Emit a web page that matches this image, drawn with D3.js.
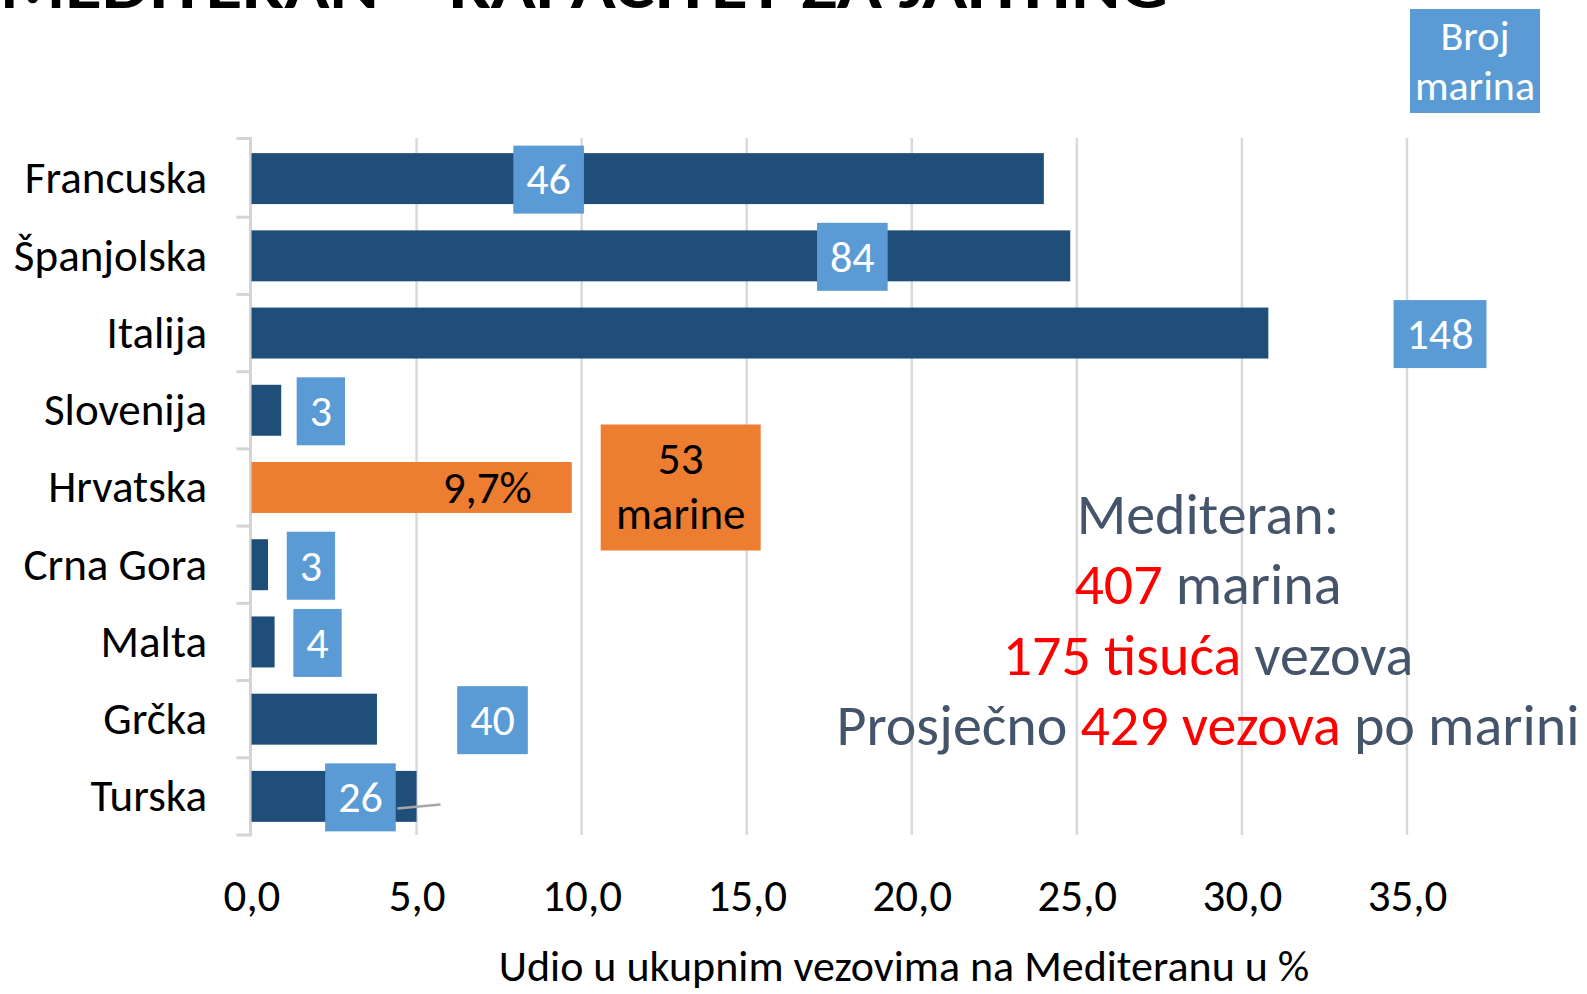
<!DOCTYPE html>
<html>
<head>
<meta charset="utf-8">
<script src="https://cdn.jsdelivr.net/npm/d3@7"></script>
<style>
  body { margin: 0; background: #fff; }
  svg text { font-family: Carlito, Lato, "Open Sans", sans-serif; }
</style>
</head>
<body>
<div id="chart"></div>
<script>
// data
const countries = ['Francuska', 'Španjolska', 'Italija', 'Slovenija', 'Hrvatska', 'Crna Gora', 'Malta', 'Grčka', 'Turska'];
const shares = [24.0, 24.8, 30.8, 0.9, 9.7, 0.5, 0.7, 3.8, 5.0];   // udio u vezovima, %
const marinas = [46, 84, 148, 3, 53, 3, 4, 40, 26];                // broj marina
const labelAt = [9.0, 18.2, 36.0, 2.1, 13.0, 1.8, 2.0, 7.3, 3.3];  // label box centre, in % units
const xTicks = [0, 5, 10, 15, 20, 25, 30, 35];
const highlight = 'Hrvatska';

const W = 1587, H = 994;
const margin = { top: 140, left: 251.5, bottom: 159 };
const plotRight = 1407;

const svg = d3.select('#chart').append('svg')
  .attr('width', W)
  .attr('height', H);

const x = d3.scaleLinear().domain([0, 35]).range([margin.left, plotRight]);
const y = d3.scaleBand()
  .domain(countries)
  .range([margin.top, H - margin.bottom])
  .paddingInner(0.34)
  .paddingOuter(0.17);

const fmt = d => d.toFixed(1).replace('.', ',');

// title, mostly cut off at the top
svg.append('text')
  .attr('x', 0)
  .attr('y', 8)
  .attr('textLength', 1168)
  .attr('lengthAdjust', 'spacingAndGlyphs')
  .style('font-size', '62px')
  .style('font-weight', 'bold')
  .text('MEDITERAN – KAPACITET ZA JAHTING');

// vertical gridlines
svg.append('g')
  .selectAll('line')
  .data(xTicks.slice(1))
  .join('line')
  .attr('x1', d => x(d)).attr('x2', d => x(d))
  .attr('y1', 138).attr('y2', H - margin.bottom)
  .attr('stroke', '#d9d9d9')
  .attr('stroke-width', 2.5);

// x tick labels
svg.append('g')
  .attr('transform', `translate(0,${H - margin.bottom})`)
  .call(d3.axisBottom(x).tickValues(xTicks).tickFormat(fmt).tickSize(0).tickPadding(44))
  .call(g => g.select('.domain').remove())
  .call(g => g.selectAll('text')
    .attr('fill', '#000')
    .style('font-size', '45px')
    .style('font-family', 'Carlito, Lato, sans-serif'));

// category axis: line + ticks at band boundaries
const axisG = svg.append('g');
axisG.append('line')
  .attr('x1', margin.left - 1).attr('x2', margin.left - 1)
  .attr('y1', 137).attr('y2', H - margin.bottom + 1)
  .attr('stroke', '#d4d4d4').attr('stroke-width', 3);
const bounds = countries.map(c => y(c) - y.step() * y.paddingInner() / 2);
bounds.push(H - margin.bottom);
bounds[0] = 138.5;
axisG.selectAll('line.tick')
  .data(bounds)
  .join('line')
  .attr('class', 'tick')
  .attr('x1', margin.left - 15).attr('x2', margin.left)
  .attr('y1', d => d).attr('y2', d => d)
  .attr('stroke', '#d4d4d4').attr('stroke-width', 3);

svg.append('g')
  .selectAll('text')
  .data(countries)
  .join('text')
  .attr('x', 207)
  .attr('y', d => y(d) + y.bandwidth() / 2)
  .attr('dy', '0.33em')
  .attr('text-anchor', 'end')
  .style('font-size', '45px')
  .text(d => d);

// bars
svg.append('g')
  .selectAll('rect')
  .data(countries)
  .join('rect')
  .attr('x', x(0))
  .attr('y', d => y(d))
  .attr('width', (d, i) => x(shares[i]) - x(0))
  .attr('height', y.bandwidth())
  .attr('fill', d => d === highlight ? '#ED7D31' : '#1F4E79');

// share label inside the highlighted bar
const hi = countries.indexOf(highlight);
svg.append('text')
  .attr('x', x(shares[hi]) - 40)
  .attr('y', y(highlight) + y.bandwidth() / 2)
  .attr('dy', '0.35em')
  .attr('text-anchor', 'end')
  .style('font-size', '45px')
  .text(fmt(shares[hi]) + '%');

// leader line for Turska label
const ti = countries.indexOf('Turska');
svg.append('line')
  .attr('x1', x(labelAt[ti]) + 37).attr('y1', y('Turska') + y.bandwidth() / 2 + 12)
  .attr('x2', x(shares[ti]) + 24).attr('y2', y('Turska') + y.bandwidth() / 2 + 8)
  .attr('stroke', '#a6a6a6').attr('stroke-width', 2.5);

// marina count boxes
const boxH = 68;
const labels = svg.append('g');
countries.forEach((c, i) => {
  const cy = y(c) + y.bandwidth() / 2;
  const cx = x(labelAt[i]);
  const g = labels.append('g');
  if (c === highlight) {
    g.append('rect')
      .attr('x', cx - 80).attr('y', cy - 63)
      .attr('width', 160).attr('height', 126)
      .attr('fill', '#ED7D31');
    g.append('text')
      .attr('x', cx).attr('y', cy - 14)
      .attr('text-anchor', 'middle')
      .style('font-size', '45px')
      .text(marinas[i]);
    g.append('text')
      .attr('x', cx).attr('y', cy + 41)
      .attr('text-anchor', 'middle')
      .style('font-size', '45px')
      .text('marine');
    return;
  }
  const r = g.append('rect').attr('fill', '#5B9BD5');
  const t = g.append('text')
    .attr('x', cx).attr('y', cy)
    .attr('dy', '0.36em')
    .attr('text-anchor', 'middle')
    .attr('fill', '#fff')
    .style('font-size', '44px')
    .text(marinas[i]);
  const bw = t.node().getBBox().width + 26;
  r.attr('x', cx - bw / 2).attr('y', cy - boxH / 2 + 1)
    .attr('width', bw).attr('height', boxH);
});

// "Broj marina" legend box
const lg = svg.append('g');
lg.append('rect')
  .attr('x', 1410).attr('y', 9)
  .attr('width', 130).attr('height', 104)
  .attr('fill', '#5B9BD5');
lg.selectAll('text')
  .data(['Broj', 'marina'])
  .join('text')
  .attr('x', 1475)
  .attr('y', (d, i) => 50 + i * 50)
  .attr('text-anchor', 'middle')
  .attr('fill', '#fff')
  .style('font-size', '42px')
  .text(d => d);

// summary text
const slate = '#44546A', red = '#FF0000';
const summary = [
  [['Mediteran:', slate]],
  [['407', red], [' marina', slate]],
  [['175 tisuća', red], [' vezova', slate]],
  [['Prosječno ', slate], ['429 vezova', red], [' po marini', slate]]
];
const sg = svg.append('g');
summary.forEach((line, i) => {
  const t = sg.append('text')
    .attr('x', 1208)
    .attr('y', 534 + i * 70.3)
    .attr('text-anchor', 'middle')
    .style('font-size', '58px');
  line.forEach(([s, col]) => t.append('tspan').attr('fill', col).text(s));
});

// axis title
svg.append('text')
  .attr('x', 904)
  .attr('y', 981)
  .attr('text-anchor', 'middle')
  .style('font-size', '44px')
  .text('Udio u ukupnim vezovima na Mediteranu u %');
</script>
</body>
</html>
